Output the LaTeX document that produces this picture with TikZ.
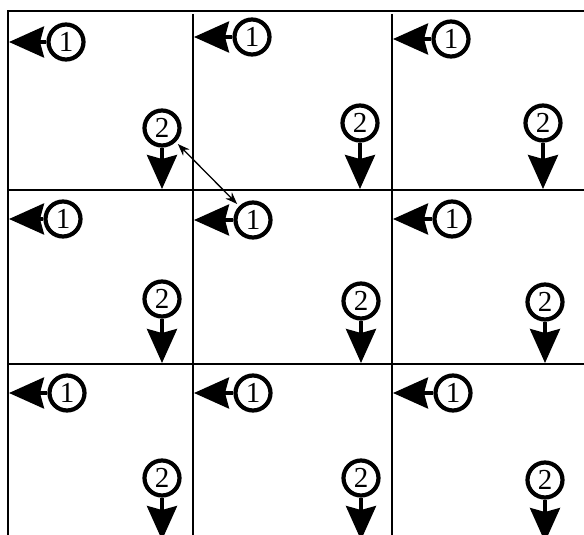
\documentclass[tikz,border=0pt]{standalone}
\usepackage{fontspec}
\setmainfont{Liberation Serif}
\usetikzlibrary{arrows.meta}
\begin{document}
\begin{tikzpicture}[x=1pt,y=-1pt,
  grid/.style={line width=2.2pt},
  ring/.style={circle,draw,line width=4.2pt,minimum size=35pt,inner sep=0pt,font=\fontsize{29}{29}\selectfont},
  leftarr/.style={line width=3.6pt,-{Stealth[length=35pt,width=31pt,inset=4pt]}},
  downarr/.style={line width=3.6pt,-{Stealth[length=34pt,width=30pt,inset=4pt]}},
  dbl/.style={line width=1.3pt,{Stealth[length=12pt,width=9pt]}-{Stealth[length=12pt,width=9pt]},shorten <=3pt,shorten >=3pt}]
\clip (0,0) rectangle (584,535);
% grid
\coordinate (g1) at (8,11);
\coordinate (g2) at (584,11);
\coordinate (g3) at (8,535);
\draw[grid] (g2) -- (g1) -- (g3);
\foreach \x [count=\i] in {193,392}{
  \coordinate (vt\i) at (\x,14);
  \coordinate (vb\i) at (\x,535);
  \draw[grid] (vt\i) -- (vb\i);
}
\foreach \y [count=\i] in {190,364}{
  \coordinate (hl\i) at (8,\y);
  \coordinate (hr\i) at (584,\y);
  \draw[grid] (hl\i) -- (hr\i);
}
% circles 1 with left arrows
\foreach \r/\c/\x/\y/\lx in {0/0/66/42/9, 0/1/252/37/194, 0/2/451/39/393,
  1/0/63/219/9, 1/1/253/220/194, 1/2/452/219/393,
  2/0/67/393/9, 2/1/253/393/194, 2/2/453/393/393}{
  \node[ring] (a\r\c) at (\x,\y) {1};
  \coordinate (ta\r\c) at (\lx,\y);
  \draw[leftarr] (a\r\c) -- (ta\r\c);
}
% circles 2 with down arrows
\foreach \r/\c/\x/\y/\ty in {0/0/162/128/189, 0/1/360/123/189, 0/2/543/123/189,
  1/0/162/299/363, 1/1/361/301/363, 1/2/545/302/363,
  2/0/162/478/540, 2/1/361/478/540, 2/2/545/480/542}{
  \node[ring] (b\r\c) at (\x,\y) {2};
  \coordinate (tb\r\c) at (\x,\ty);
  \draw[downarr] (b\r\c) -- (tb\r\c);
}
% double arrow
\draw[dbl] (b00) -- (a11);
\end{tikzpicture}
\end{document}
